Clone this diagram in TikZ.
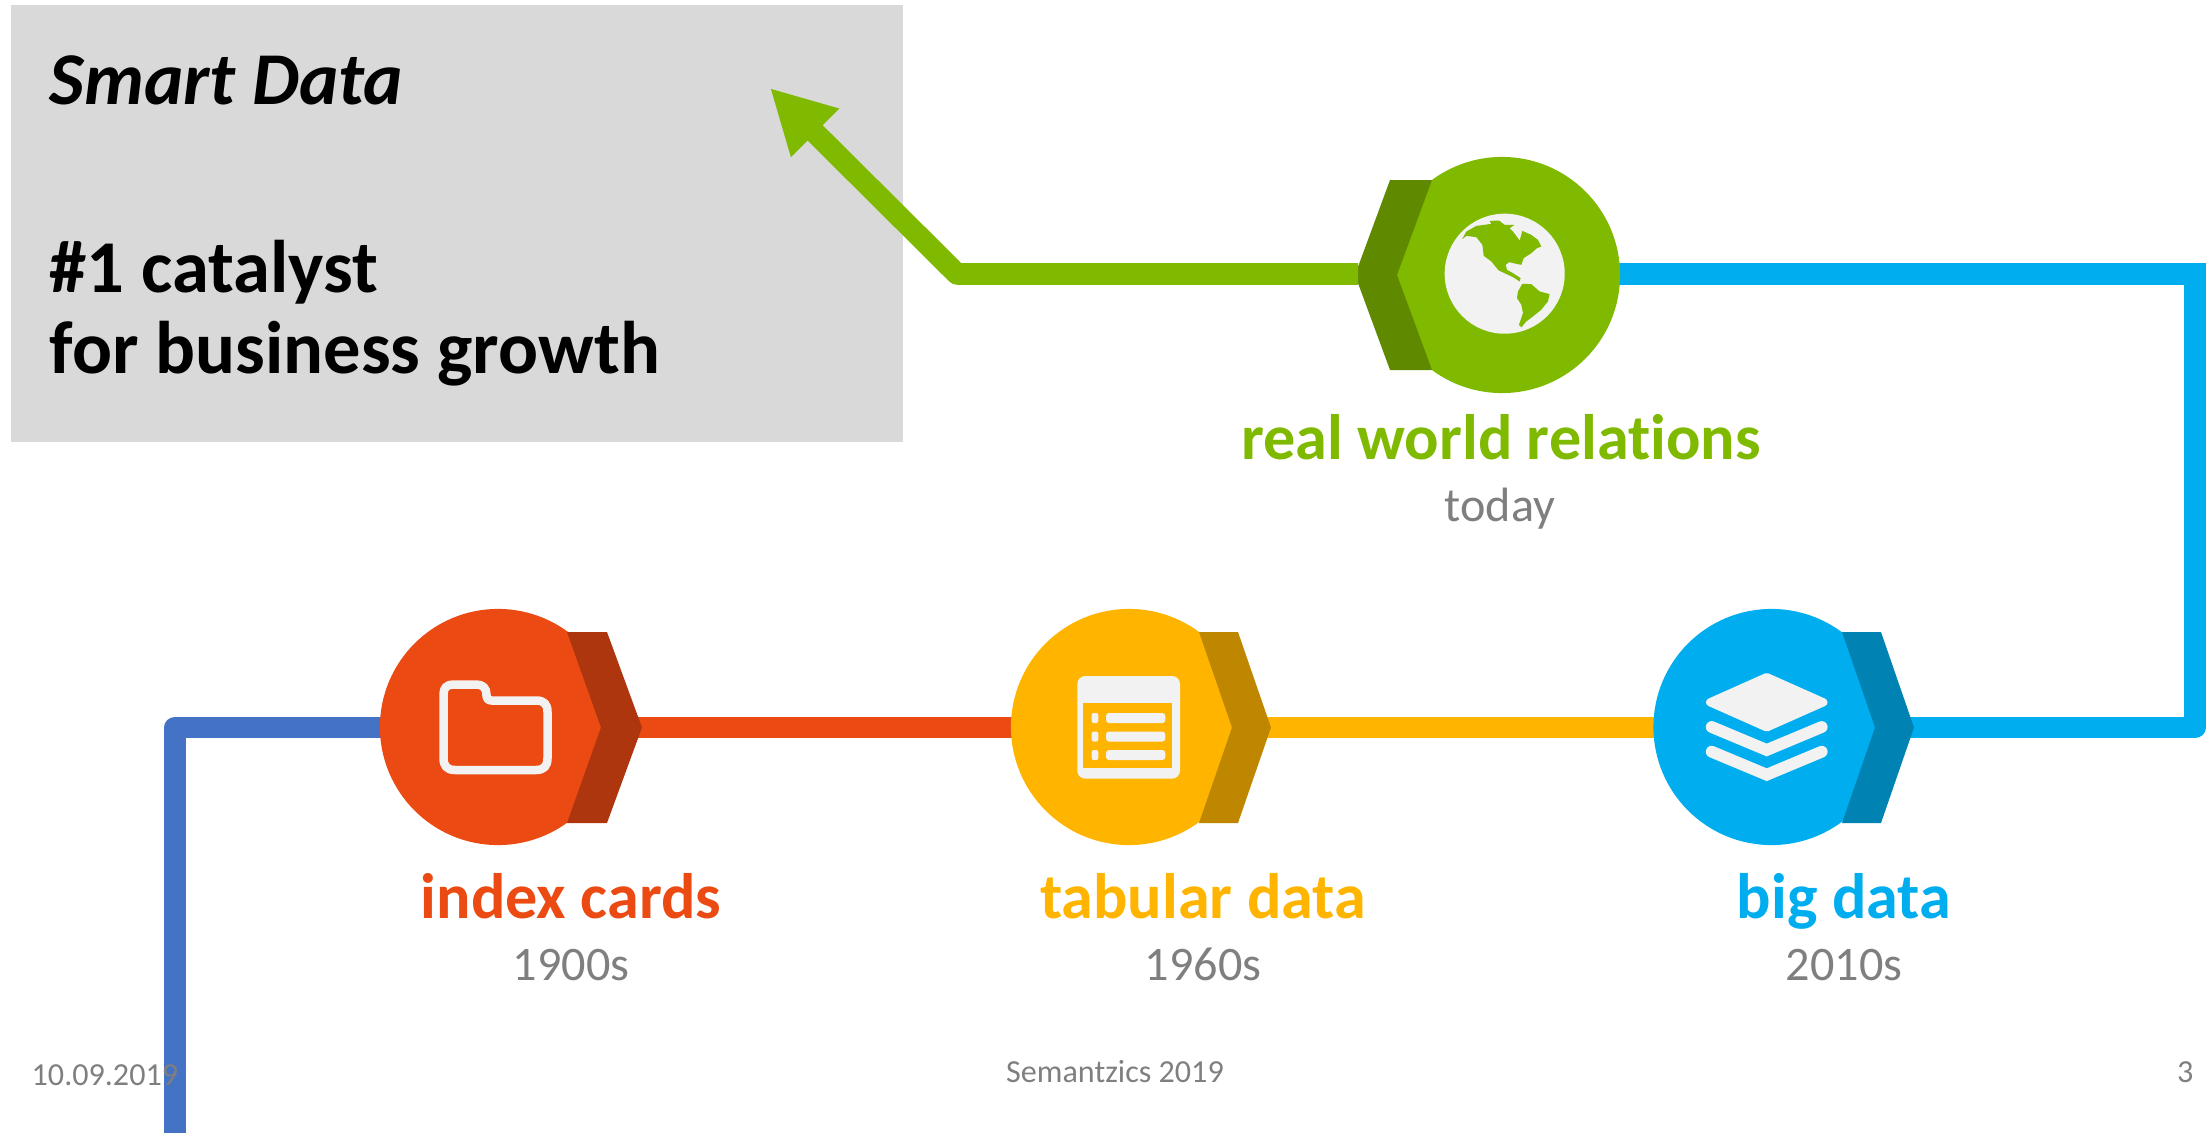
\documentclass[tikz,border=0pt]{standalone}
\usepackage{fontspec}
\setmainfont[Ligatures=CommonOff]{Carlito}
\usetikzlibrary{arrows.meta}
\pgfdeclarelayer{lines}
\pgfsetlayers{lines,main}
\definecolor{cBlueL}{HTML}{4472C4}
\definecolor{cRed}{HTML}{EB4A13}
\definecolor{cRedD}{HTML}{AD360E}
\definecolor{cAmb}{HTML}{FFB400}
\definecolor{cAmbD}{HTML}{BF8700}
\definecolor{cSky}{HTML}{00AEEF}
\definecolor{cSkyD}{HTML}{0082B3}
\definecolor{cGrn}{HTML}{7FB900}
\definecolor{cGrnD}{HTML}{5F8A00}
\definecolor{cIcon}{HTML}{F2F2F2}
\definecolor{cBox}{HTML}{D9D9D9}
\definecolor{cGrey}{HTML}{7F7F7F}
\tikzset{
  hub/.style={circle,inner sep=0pt,minimum size=2.36cm,fill=#1},
  link/.style={line width=.215cm,line join=round,draw=#1},
  title/.style={anchor=base,font=\fontsize{18.26}{18.26}\selectfont\bfseries,text=#1,inner sep=0pt},
  era/.style={anchor=base,font=\fontsize{13.7}{13.7}\selectfont,text=cGrey,inner sep=0pt},
  foot/.style={anchor=base,font=\fontsize{9.13}{9.13}\selectfont,text=cGrey,inner sep=0pt},
  head/.style={anchor=base west,text=black,inner sep=0pt},
}
\begin{document}
\begin{tikzpicture}[x=.01cm,y=-.01cm]
\useasboundingbox (0,0) rectangle (2208,1133);
\fill[cBox] (11,5) rectangle (903,442);
\node[head,font=\fontsize{21.2}{21.2}\selectfont\bfseries\itshape] (t1) at (49,104) {Smart Data};
\node[head,font=\fontsize{21.2}{21.2}\selectfont\bfseries] (t2) at (49,292) {\#1 catalyst};
\node[head,font=\fontsize{21.2}{21.2}\selectfont\bfseries] (t3) at (49,373) {for business growth};
% hubs, then the darker chevrons over them
\node[hub=cRed] (idx) at (498,727) {};
\fill[cRedD] (567,632)--(607,632)--(642,727.5)--(607,823)--(567,823)--(601,727.5)--cycle;
\node[hub=cAmb] (tab) at (1129,727) {};
\fill[cAmbD] (1199,632)--(1238,632)--(1271,727.5)--(1238,823)--(1199,823)--(1232,727.5)--cycle;
\node[hub=cSky] (big) at (1771.5,727) {};
\fill[cSkyD] (1842,632)--(1881,632)--(1914,727.5)--(1881,823)--(1842,823)--(1875,727.5)--cycle;
\node[hub=cGrn] (glb) at (1502,275) {};
\fill[cGrnD] (1432,180)--(1390,180)--(1355,275)--(1390,370)--(1432,370)--(1397,275)--cycle;
% connectors
\coordinate (start) at (175,1133);
\coordinate (c0) at (175,727.5);
\coordinate (c1) at (2195,727.5);
\coordinate (c2) at (2195,274);
\coordinate (c3) at (957,274);
\coordinate (c4) at (1358,274);
\coordinate (tip) at (770,88);
\begin{pgfonlayer}{lines}
\draw[link=cBlueL] (start) -- (c0) -- (c0 -| idx.center);
\draw[link=cRed] (c0 -| idx.center) -- (c0 -| tab.center);
\draw[link=cAmb] (c0 -| tab.center) -- (c0 -| big.center);
\draw[link=cSky] (c0 -| big.center) -- (c1) -- (c2);
\draw[link=cSky,line join=miter] (c1) -- (c2) -- (c2 -| glb.center);
\end{pgfonlayer}
\draw[link=cGrn,-{Triangle[length=.636cm,width=.636cm,sep=0pt]}] (c4) -- (c3) -- (tip);
% folder
\draw[cIcon,line width=.085cm,line join=round]
 (453,684.5) -- (476,684.5) .. controls (483,684.5) and (486.5,688) .. (486.5,695)
 .. controls (486.5,698.5) and (488,700.5) .. (491.5,700.5) -- (536,700.5)
 .. controls (544,700.5) and (547.5,704) .. (547.5,712) -- (547.5,758)
 .. controls (547.5,766) and (544,770) .. (536,770) -- (455,770)
 .. controls (447,770) and (443.5,766) .. (443.5,758) -- (443.5,694)
 .. controls (443.5,688) and (447,684.5) .. (453,684.5) -- cycle;
% table
\fill[cIcon,rounded corners=.08cm] (1077.3,676) rectangle (1180,778.7);
\fill[cAmb] (1083.3,702.7) rectangle (1171.7,768.3);
\foreach \y in {713,731.5,750}{
  \fill[cIcon,rounded corners=.02cm] (1091.7,\y) rectangle (1098.3,\y+10);
  \fill[cIcon,rounded corners=.03cm] (1106,\y) rectangle (1165.3,\y+10);
}
% layers
\fill[cIcon,draw=cIcon,line width=.08cm,line join=round] (1766.7,677) -- (1823.5,702.3) -- (1766.7,727.5) -- (1710,702.3) -- cycle;
\draw[cIcon,line width=.118cm,line cap=round,line join=miter] (1711.7,727) -- (1766.7,750) -- (1821.7,727);
\draw[cIcon,line width=.118cm,line cap=round,line join=miter] (1711.7,751.7) -- (1766.7,774.7) -- (1821.7,751.7);
% globe
\fill[cIcon] (1504.7,273.7) circle[radius=.6cm];
\begin{scope}[shift={(1300,150)},x=.003333cm,y=-.003333cm]
\fill[cGrn] (487,268)--(500,258)--(530,262)--(548,285)--(552,318)--(575,335)--(597,362)--(640,382)--(660,395)--(663,385)--(640,370)--(622,360)--(618,345)--(628,337)--(650,342)--(665,345)--(672,325)--(695,310)--(712,295)--(725,290)--(715,270)--(695,255)--(668,243)--(665,255)--(660,272)--(640,245)--(630,235)--(645,225)--(615,225)--(598,212)--(570,213)--(575,222)--(530,228)--(500,245)--cycle;
\fill[cGrn] (668,402)--(695,403)--(720,425)--(750,433)--(745,455)--(725,480)--(700,500)--(680,515)--(665,533)--(658,525)--(670,490)--(665,465)--(652,445)--(655,425)--cycle;
\end{scope}
% labels
\node[title=cRed] (l1) at (571,918) {index cards};
\node[era] (e1) at (571,980) {1900s};
\node[title=cAmb] (l2) at (1203,918) {tabular data};
\node[era] (e2) at (1203,980) {1960s};
\node[title=cSky] (l3) at (1844,918) {big data};
\node[era] (e3) at (1844,980) {2010s};
\node[title=cGrn] (l4) at (1501,459) {real world relations};
\node[era] (e4) at (1500,521.5) {today};
\node[foot,anchor=base west] (f1) at (31,1085) {10.09.2019};
\node[foot] (f2) at (1115,1082) {Semantzics 2019};
\node[foot,anchor=base east] (f3) at (2194,1082) {3};
\end{tikzpicture}
\end{document}
